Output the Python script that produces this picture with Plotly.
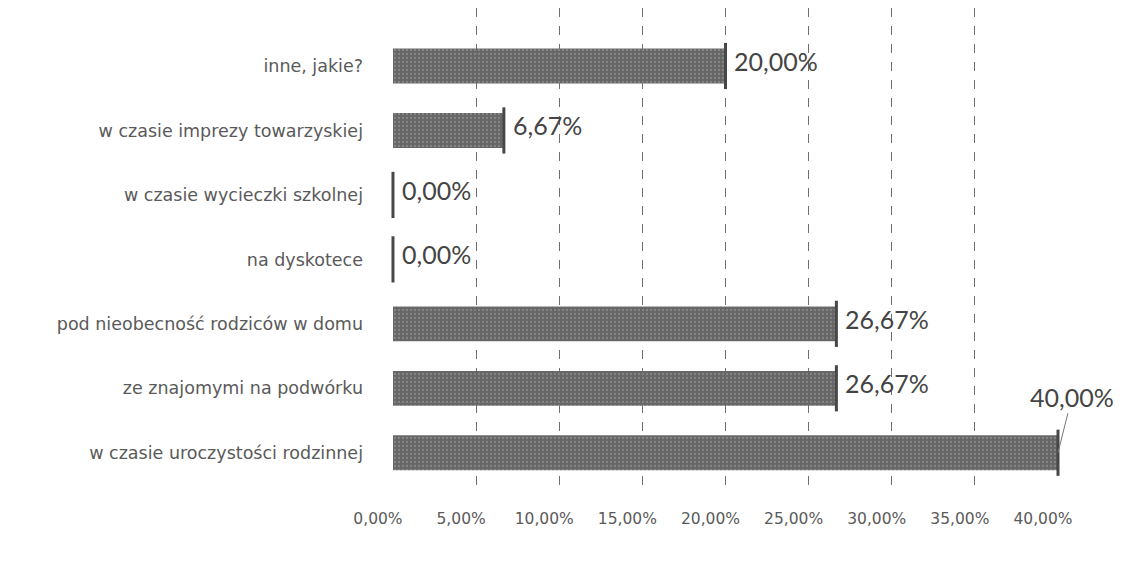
import plotly.graph_objects as go

# categories listed top to bottom as in the chart
categories = [
    "inne, jakie?",
    "w czasie imprezy towarzyskiej",
    "w czasie wycieczki szkolnej",
    "na dyskotece",
    "pod nieobecność rodziców w domu",
    "ze znajomymi na podwórku",
    "w czasie uroczystości rodzinnej",
]
values = [20.00, 6.67, 0.00, 0.00, 26.67, 26.67, 40.00]
value_labels = ["20,00%", "6,67%", "0,00%", "0,00%", "26,67%", "26,67%", "40,00%"]

tick_vals = [0, 5, 10, 15, 20, 25, 30, 35, 40]
tick_text = ["0,00%", "5,00%", "10,00%", "15,00%", "20,00%", "25,00%", "30,00%", "35,00%", "40,00%"]

COLORS = {
    "bar": "#666666",
    "speckle": "#a8a8a8",
    "edge": "#474747",
    "grid": "#6e6e6e",
    "text": "#5a5a5a",
    "value": "#444444",
}

fig = go.Figure()
fig.add_trace(go.Bar(
    x=values, y=categories, orientation="h",
    marker=dict(color=COLORS["bar"], line_width=0,
                pattern=dict(shape=".", fgcolor=COLORS["speckle"], size=4, solidity=0.25, fillmode="overlay")),
    hoverinfo="skip",
))
# dark end face of each (3D) bar
fig.add_trace(go.Scatter(
    x=values, y=categories, mode="markers", cliponaxis=False,
    marker=dict(symbol="line-ns", size=33, line=dict(width=3, color=COLORS["edge"])),
    hoverinfo="skip",
))

for v, cat, lab in zip(values, categories, value_labels):
    if v >= 35:
        fig.add_annotation(x=v, y=cat, text=lab, showarrow=True, arrowhead=0, arrowwidth=1,
                           arrowcolor="#777777", ax=14, ay=-56,
                           font=dict(family="Lato", size=25, color=COLORS["value"]))
    else:
        fig.add_annotation(x=v, y=cat, text=lab, showarrow=False, xanchor="left", xshift=7, yshift=5,
                           font=dict(family="Lato", size=25, color=COLORS["value"]))

fig.update_layout(
    width=1125, height=562,
    margin=dict(l=362, r=75, t=0, b=85),
    plot_bgcolor="#ffffff", paper_bgcolor="#ffffff",
    showlegend=False,
    bargap=0.46,
    font=dict(family="DejaVu Sans", size=15, color=COLORS["text"]),
    xaxis=dict(domain=[0.0334, 1], range=[0, 40], tickvals=tick_vals, ticktext=tick_text,
               ticklabelstandoff=22, ticklabelshift=-15,
               tickfont=dict(family="DejaVu Sans", size=15.5, color=COLORS["text"]),
               showgrid=True, gridcolor=COLORS["grid"], griddash="dash", gridwidth=1,
               zeroline=False, showline=False),
    yaxis=dict(range=[len(categories) - 0.5, -0.9], anchor="free", position=0,
               ticklabelstandoff=7,
               showgrid=False, zeroline=False, showline=False, ticks="",
               tickfont=dict(family="DejaVu Sans", size=17.5, color=COLORS["text"])),
)

fig.write_html("out.html")
